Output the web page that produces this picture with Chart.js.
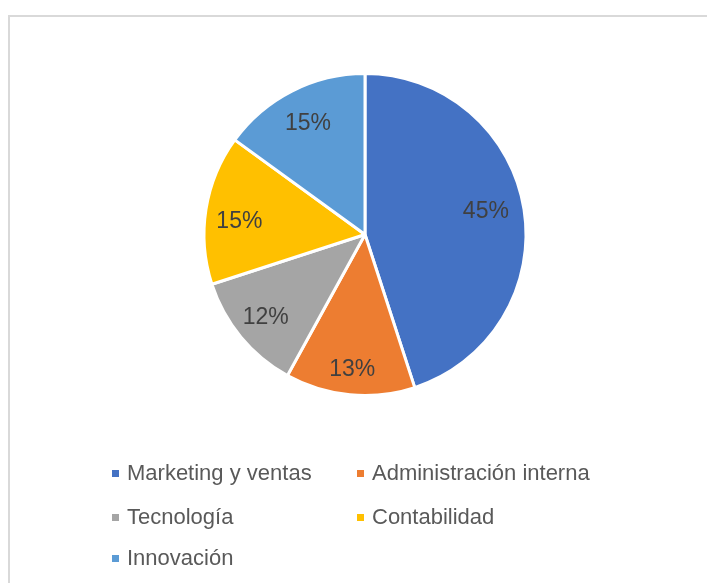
<!DOCTYPE html>
<html>
<head>
<meta charset="utf-8">
<script src="https://cdn.jsdelivr.net/npm/chart.js@4"></script>
<style>
  html, body { margin: 0; padding: 0; background: #fff; }
  body { width: 707px; height: 583px; position: relative; overflow: hidden; font-family: "Liberation Sans", Arial, sans-serif; }
  #frame { position: absolute; left: 8px; top: 15px; width: 720px; height: 600px; border-top: 2px solid #d9d9d9; border-left: 2px solid #d9d9d9; }
  #chartBox { position: absolute; left: 0; top: 0; width: 707px; height: 583px; }
  #legend { position: absolute; left: 0; top: 0; }
  .item { position: absolute; white-space: nowrap; font-size: 22px; color: #595959; line-height: 22px; }
  .item span.box { position: absolute; width: 7px; height: 7px; left: -15px; top: 8px; }
</style>
</head>
<body>
<div id="frame"></div>
<div id="chartBox"><canvas id="myChart"></canvas></div>
<div id="legend"></div>
<script>
const labels = ["Marketing y ventas", "Administración interna", "Tecnología", "Contabilidad", "Innovación"];
const values = [45, 13, 12, 15, 15];
const colors = ["#4472C4", "#ED7D31", "#A5A5A5", "#FFC000", "#5B9BD5"];

// how far out (fraction of radius) each percent label sits, plus a small vertical nudge
const labelDist = [0.76, 0.84, 0.80, 0.79, 0.78];
const labelNudge = [-5, 0, 0, 6, 0];

const total = values.reduce((a, b) => a + b, 0);

const pctLabels = {
  id: "pctLabels",
  afterDatasetsDraw(chart) {
    const ctx = chart.ctx;
    const meta = chart.getDatasetMeta(0);
    ctx.save();
    ctx.font = "23px 'Liberation Sans', Arial, sans-serif";
    ctx.fillStyle = "#404040";
    ctx.textAlign = "center";
    ctx.textBaseline = "middle";
    meta.data.forEach((arc, i) => {
      const p = arc.getProps(["x", "y", "startAngle", "endAngle", "outerRadius"], true);
      const mid = (p.startAngle + p.endAngle) / 2;
      const r = p.outerRadius * labelDist[i];
      const txt = Math.round(values[i] / total * 100) + "%";
      ctx.fillText(txt, p.x + Math.cos(mid) * r, p.y + Math.sin(mid) * r + 1 + labelNudge[i]);
    });
    ctx.restore();
  }
};

const pieCanvas = document.getElementById("myChart");
const pieChart = new Chart(pieCanvas, {
  type: "pie",
  data: {
    labels: labels,
    datasets: [{
      data: values,
      backgroundColor: colors,
      borderColor: "#ffffff",
      borderWidth: 3
    }]
  },
  options: {
    responsive: true,
    maintainAspectRatio: false,
    animation: false,
    layout: {
      padding: { left: 202, right: 179, top: 72, bottom: 186 }
    },
    plugins: {
      legend: { display: false },
      tooltip: { enabled: false }
    }
  },
  plugins: [pctLabels]
});

// two-column legend like the office chart
const legendBox = document.getElementById("legend");
const colX = [127, 372];
const rowY = [462, 506, 547];
labels.forEach((name, i) => {
  const d = document.createElement("div");
  d.className = "item";
  d.style.left = colX[i % 2] + "px";
  d.style.top = rowY[Math.floor(i / 2)] + "px";
  const box = document.createElement("span");
  box.className = "box";
  box.style.background = colors[i];
  d.appendChild(box);
  d.appendChild(document.createTextNode(name));
  legendBox.appendChild(d);
});
</script>
</body>
</html>
